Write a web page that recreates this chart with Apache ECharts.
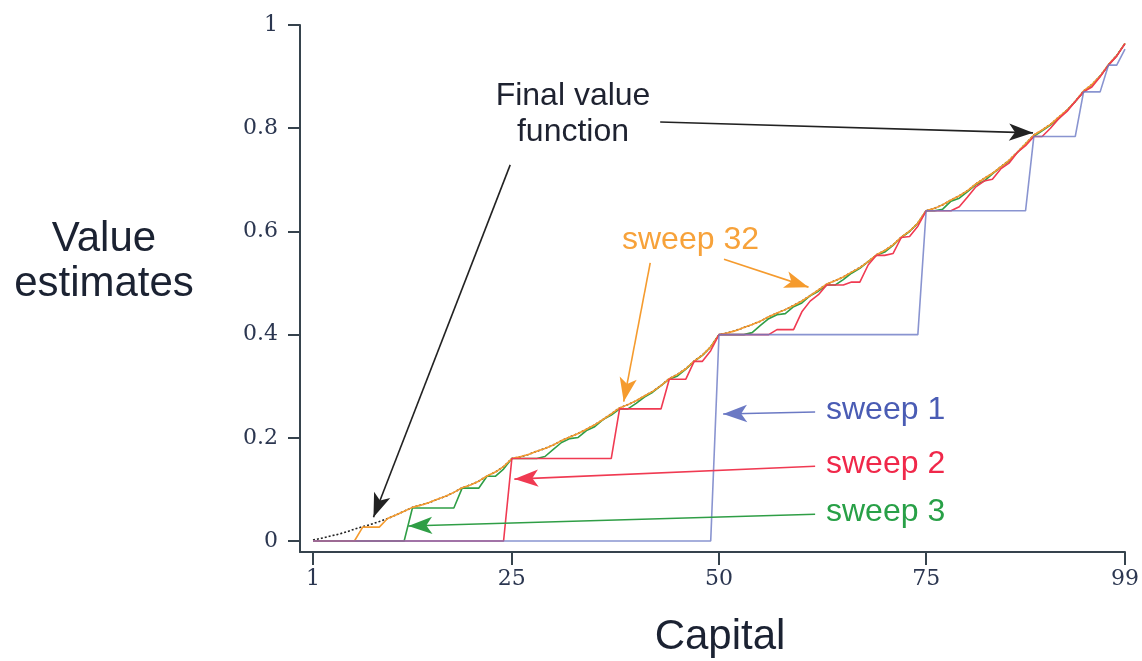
<!DOCTYPE html>
<html><head><meta charset="utf-8">
<script src="https://cdn.jsdelivr.net/npm/echarts@6/dist/echarts.min.js"></script>
<style>html,body{margin:0;padding:0;background:#fff}#c{width:1142px;height:661px}</style>
</head><body><div id="c"></div><script>
const capitals = [1,2,3,4,5,6,7,8,9,10,11,12,13,14,15,16,17,18,19,20,21,22,23,24,25,26,27,28,29,30,31,32,33,34,35,36,37,38,39,40,41,42,43,44,45,46,47,48,49,50,51,52,53,54,55,56,57,58,59,60,61,62,63,64,65,66,67,68,69,70,71,72,73,74,75,76,77,78,79,80,81,82,83,84,85,86,87,88,89,90,91,92,93,94,95,96,97,98,99];

const sweep1 = [0,0,0,0,0,0,0,0,0,0,
0,0,0,0,0,0,0,0,0,0,
0,0,0,0,0,0,0,0,0,0,
0,0,0,0,0,0,0,0,0,0,
0,0,0,0,0,0,0,0,0,0.4,
0.4,0.4,0.4,0.4,0.4,0.4,0.4,0.4,0.4,0.4,
0.4,0.4,0.4,0.4,0.4,0.4,0.4,0.4,0.4,0.4,
0.4,0.4,0.4,0.4,0.64,0.64,0.64,0.64,0.64,0.64,
0.64,0.64,0.64,0.64,0.64,0.64,0.64,0.784,0.784,0.784,
0.784,0.784,0.784,0.8704,0.8704,0.8704,0.9222,0.9222,0.9533];

const sweep2 = [0,0,0,0,0,0,0,0,0,0,
0,0,0,0,0,0,0,0,0,0,
0,0,0,0,0.16,0.16,0.16,0.16,0.16,0.16,
0.16,0.16,0.16,0.16,0.16,0.16,0.16,0.256,0.256,0.256,
0.256,0.256,0.256,0.3136,0.3136,0.3136,0.3482,0.3482,0.3689,0.4,
0.4,0.4,0.4,0.4,0.4,0.4,0.4096,0.4096,0.4096,0.4442,
0.4649,0.4773,0.496,0.496,0.496,0.5018,0.5018,0.5349,0.5536,0.5536,
0.5571,0.5882,0.5902,0.6101,0.64,0.64,0.64,0.64,0.6478,0.6665,
0.6864,0.6976,0.7011,0.7210,0.7322,0.7529,0.7661,0.784,0.784,0.7999,
0.8186,0.8326,0.8517,0.8704,0.8799,0.8995,0.9222,0.9397,0.9638];

const sweep3 = [0,0,0,0,0,0,0,0,0,0,
0,0,0.064,0.064,0.064,0.064,0.064,0.064,0.1024,0.1024,
0.1024,0.1254,0.1254,0.1393,0.16,0.16,0.16,0.16,0.1638,0.1777,
0.1909,0.1984,0.2007,0.2140,0.2214,0.2353,0.2441,0.256,0.256,0.2666,
0.2790,0.2884,0.3012,0.3136,0.3200,0.3330,0.3482,0.3598,0.3759,0.4,
0.4,0.4,0.4,0.4038,0.4177,0.4309,0.4384,0.4407,0.4540,0.4614,
0.4753,0.4841,0.496,0.496,0.5066,0.5190,0.5284,0.5412,0.5536,0.5600,
0.5730,0.5882,0.5998,0.6159,0.64,0.64,0.6431,0.6586,0.6644,0.6769,
0.6904,0.6976,0.7114,0.7247,0.7360,0.7529,0.7695,0.784,0.7951,0.8061,
0.8186,0.8348,0.8517,0.8704,0.8837,0.9009,0.9222,0.9405,0.9643];

const sweep32 = [0,0,0,0,0,0,0.027,0.027,0.027,0.0435,
0.0504,0.0577,0.0652,0.0695,0.0744,0.0807,0.0866,0.0942,0.1031,0.1087,
0.1160,0.1259,0.1336,0.1441,0.16,0.1631,0.1677,0.1738,0.1794,0.1861,
0.1946,0.2017,0.2084,0.2165,0.2252,0.2355,0.2465,0.2579,0.2643,0.2717,
0.2810,0.2899,0.3013,0.3147,0.3230,0.3339,0.3488,0.3604,0.3762,0.4,
0.4031,0.4077,0.4138,0.4194,0.4261,0.4346,0.4417,0.4484,0.4565,0.4652,
0.4755,0.4865,0.4979,0.5043,0.5116,0.5210,0.5299,0.5413,0.5547,0.5630,
0.5740,0.5889,0.6004,0.6162,0.64,0.6446,0.6516,0.6608,0.6690,0.6791,
0.6919,0.7026,0.7126,0.7248,0.7378,0.7533,0.7697,0.7868,0.7965,0.8075,
0.8215,0.8349,0.8520,0.8721,0.8845,0.9009,0.9232,0.9406,0.9643];

const finalValue = [0.0021,0.0052,0.0092,0.0129,0.0174,0.0231,0.0278,0.0323,0.0377,0.0435,
0.0504,0.0577,0.0652,0.0695,0.0744,0.0807,0.0866,0.0942,0.1031,0.1087,
0.1160,0.1259,0.1336,0.1441,0.16,0.1631,0.1677,0.1738,0.1794,0.1861,
0.1946,0.2017,0.2084,0.2165,0.2252,0.2355,0.2465,0.2579,0.2643,0.2717,
0.2810,0.2899,0.3013,0.3147,0.3230,0.3339,0.3488,0.3604,0.3762,0.4,
0.4031,0.4077,0.4138,0.4194,0.4261,0.4346,0.4417,0.4484,0.4565,0.4652,
0.4755,0.4865,0.4979,0.5043,0.5116,0.5210,0.5299,0.5413,0.5547,0.5630,
0.5740,0.5889,0.6004,0.6162,0.64,0.6446,0.6516,0.6608,0.6690,0.6791,
0.6919,0.7026,0.7126,0.7248,0.7378,0.7533,0.7697,0.7868,0.7965,0.8075,
0.8215,0.8349,0.8520,0.8721,0.8845,0.9009,0.9232,0.9406,0.9643];

const xTicks = [1,25,50,75,99];
const yTicks = [0,0.2,0.4,0.6,0.8,1];

const C = {blue:'#6b79c4', red:'#f03a52', green:'#2f9e46', orange:'#f59b2e', black:'#222222',
  blueText:'#4a5cb4', redText:'#f0284a', greenText:'#28a047', orangeText:'#f7a23a', axis:'#36434d'};

// annotation arrows in data coordinates [capital, value]
const arrowStarts = [[42.9,0.812],[24.8,0.729],[41.7,0.539],[50.6,0.546],[61.6,0.25],[61.6,0.145],[61.6,0.052]];
const arrowEnds   = [[87.9,0.791],[8.3,0.046],[38.5,0.270],[60.8,0.492],[50.5,0.246],[25.3,0.120],[12.5,0.029]];
const arrowColors = [C.black, C.black, C.orange, C.orange, C.blue, C.red, C.green];

function pairs(vals){ return capitals.map((c,i)=>[c, vals[i]]); }

const chart = echarts.init(document.getElementById('c'), null, {renderer:'canvas'});

function lineSeries(name, vals, color, extra){
  return Object.assign({
    name, type:'line', data:pairs(vals), showSymbol:false, symbol:'none',
    lineStyle:{color, width:1.6}, itemStyle:{color}, animation:false, silent:true
  }, extra||{});
}

const markData = arrowStarts.map((s,i)=>[
  {coord:s, symbol:'none', lineStyle:{color:arrowColors[i], width:1.6, type:'solid'}, itemStyle:{color:arrowColors[i]}},
  {coord:arrowEnds[i], symbol:'arrow', symbolSize:[13,24]}
]);

chart.setOption({
  animation:false,
  backgroundColor:'#ffffff',
  grid:{left:300, right:17, top:25, bottom:109, containLabel:false},
  xAxis:{type:'value', min:-0.569, max:99,
    axisLine:{show:true, onZero:false, lineStyle:{color:C.axis, width:2}},
    axisTick:{show:true, customValues:xTicks, length:13, lineStyle:{color:C.axis, width:2}},
    axisLabel:{show:true, customValues:xTicks, fontFamily:'DejaVu Serif', fontSize:22, color:'#2b3650', margin:16},
    splitLine:{show:false}},
  yAxis:{type:'value', min:-0.0213, max:1,
    axisLine:{show:true, onZero:false, lineStyle:{color:C.axis, width:2}},
    axisTick:{show:true, customValues:yTicks, length:12, lineStyle:{color:C.axis, width:2}},
    axisLabel:{show:true, customValues:yTicks, fontFamily:'DejaVu Serif', fontSize:22, color:'#2b3650', margin:22},
    splitLine:{show:false}},
  series:[
    lineSeries('Final value function', finalValue, C.black, {lineStyle:{color:C.black, width:1.6, type:[2,2]}}),
    lineSeries('sweep 3', sweep3, C.green),
    lineSeries('sweep 32', sweep32, C.orange),
    lineSeries('sweep 2', sweep2, C.red),
    lineSeries('sweep 1', sweep1, C.blue, {lineStyle:{color:C.blue, width:1.6, opacity:0.8}}),
    {name:'annotations', type:'line', data:[], silent:true, animation:false,
      markLine:{silent:true, animation:false, symbol:['none','arrow'], label:{show:false},
        lineStyle:{type:'solid', width:1.6}, data:markData}}
  ],
  graphic:[
    {type:'text', x:104, y:262, style:{text:'Value\nestimates', font:'42px "Liberation Sans"', fill:'#1b2232', align:'center', verticalAlign:'middle', lineHeight:45}},
    {type:'text', x:720, y:637, style:{text:'Capital', font:'42px "Liberation Sans"', fill:'#1b2232', align:'center', verticalAlign:'middle'}},
    {type:'text', x:573, y:114, style:{text:'Final value\nfunction', font:'32px "Liberation Sans"', fill:'#1e2230', align:'center', verticalAlign:'middle', lineHeight:36}},
    {type:'text', x:622, y:240, style:{text:'sweep 32', font:'32px "Liberation Sans"', fill:C.orangeText, align:'left', verticalAlign:'middle'}},
    {type:'text', x:826, y:410, style:{text:'sweep 1', font:'32px "Liberation Sans"', fill:C.blueText, align:'left', verticalAlign:'middle'}},
    {type:'text', x:826, y:464, style:{text:'sweep 2', font:'32px "Liberation Sans"', fill:C.redText, align:'left', verticalAlign:'middle'}},
    {type:'text', x:826, y:512, style:{text:'sweep 3', font:'32px "Liberation Sans"', fill:C.greenText, align:'left', verticalAlign:'middle'}}
  ]
});
</script></body></html>
